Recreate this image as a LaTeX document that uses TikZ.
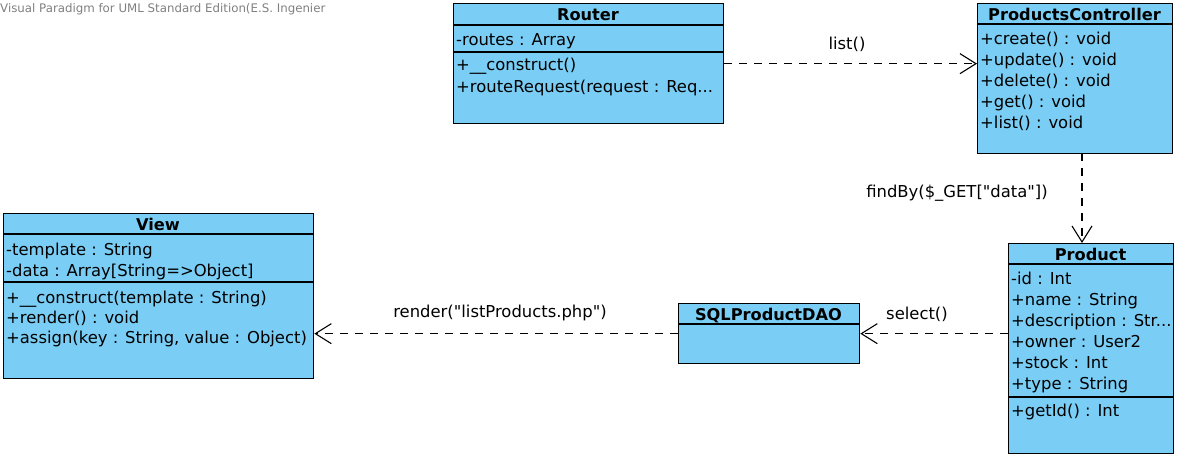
\documentclass[tikz,border=0pt]{standalone}
\usepackage{fontspec}
\setmainfont{DejaVu Sans}[Ligatures=TeXOff]
\usepackage{xcolor}
\usepackage{tikz}
\usetikzlibrary{arrows.meta, calc, positioning}

\definecolor{classblue}{RGB}{122,206,245}
\definecolor{wmgray}{RGB}{128,128,128}

\begin{document}
\begin{tikzpicture}[x=1pt, y=-1pt,
	classbox/.style={draw, fill=classblue, line width=1.3pt, inner sep=0, anchor=north west},
	classname/.style={font=\fontsize{16.2}{21}\bfseries\selectfont, anchor=base, inner sep=0},
	member/.style={font=\fontsize{16.4}{21}\selectfont, anchor=base west, inner sep=0},
	msg/.style={font=\fontsize{16.4}{21}\selectfont, inner sep=0},
	dep/.style={line width=1.1pt, dash pattern=on 8pt off 7pt, -{Straight Barb[length=16pt, width=20pt, line width=1.1pt]}}]
\useasboundingbox (0,0) rectangle (1179,459);

% Router
\node[classbox, minimum width=270, minimum height=120] (router) at (453,3) {};
\draw[line width=1.3pt] (router.west |- 0,25) -- (router.east |- 0,25);
\draw[line width=1.3pt] (router.west |- 0,52) -- (router.east |- 0,52);
\node[classname] (routername) at (588,20) {Router};
\node[member] (router1) at (456,45) {-routes : Array};
\node[member] (router2) at (456,70) {+\_\_construct()};
\node[member] (router3) at (456,92) {+routeRequest(request : Req...};

% ProductsController
\node[classbox, minimum width=195, minimum height=150] (pc) at (977,3) {};
\draw[line width=1.3pt] (pc.west |- 0,24) -- (pc.east |- 0,24);
\node[classname] (pcname) at (1074.5,20) {ProductsController};
\node[member] (pc1) at (980,44) {+create() : void};
\node[member] (pc2) at (980,65) {+update() : void};
\node[member] (pc3) at (980,86) {+delete() : void};
\node[member] (pc4) at (980,107) {+get() : void};
\node[member] (pc5) at (980,128) {+list() : void};

% Product
\node[classbox, minimum width=165, minimum height=210] (product) at (1008,243) {};
\draw[line width=1.3pt] (product.west |- 0,264) -- (product.east |- 0,264);
\draw[line width=1.3pt] (product.west |- 0,397) -- (product.east |- 0,397);
\node[classname] (productname) at (1090.5,260) {Product};
\node[member] (product1) at (1011,284) {-id : Int};
\node[member] (product2) at (1011,305) {+name : String};
\node[member] (product3) at (1011,326) {+description : Str...};
\node[member] (product4) at (1011,347) {+owner : User2};
\node[member] (product5) at (1011,368) {+stock : Int};
\node[member] (product6) at (1011,389) {+type : String};
\node[member] (product7) at (1011,416) {+getId() : Int};

% SQLProductDAO
\node[classbox, minimum width=181, minimum height=60] (dao) at (678,303) {};
\draw[line width=1.3pt] (dao.west |- 0,324) -- (dao.east |- 0,324);
\node[classname] (daoname) at (768.5,320) {SQLProductDAO};

% View
\node[classbox, minimum width=310, minimum height=165] (view) at (3,213) {};
\draw[line width=1.3pt] (view.west |- 0,234) -- (view.east |- 0,234);
\draw[line width=1.3pt] (view.west |- 0,282) -- (view.east |- 0,282);
\node[classname] (viewname) at (158,230) {View};
\node[member] (view1) at (6,255) {-template : String};
\node[member] (view2) at (6,276) {-data : Array[String=>Object]};
\node[member] (view3) at (6,303) {+\_\_construct(template : String)};
\node[member] (view4) at (6,323) {+render() : void};
\node[member] (view5) at (6,343) {+assign(key : String, value : Object)};

% Watermark
\node[font=\fontsize{11.8}{14}\selectfont, text=wmgray, anchor=base west, inner sep=0] (watermark) at (0,12) {Visual Paradigm for UML Standard Edition(E.S. Ingenier};

% Dependencies
\coordinate (pcout) at (1082,153);
\draw[dep] (router.east) -- (router.east -| pc.west);
\draw[dep] (pcout) -- (pcout |- product.north);
\draw[dep] (product.west |- dao.east) -- (dao.east);
\draw[dep] (dao.west) -- (dao.west -| view.east);

% Messages
\node[msg] (listmsg) at (847,44) {list()};
\node[msg] (findmsg) at (957,193) {findBy(\$\_GET["data"])};
\node[msg] (selectmsg) at (917,314) {select()};
\node[msg] (rendermsg) at (500,313) {render("listProducts.php")};

\end{tikzpicture}
\end{document}
